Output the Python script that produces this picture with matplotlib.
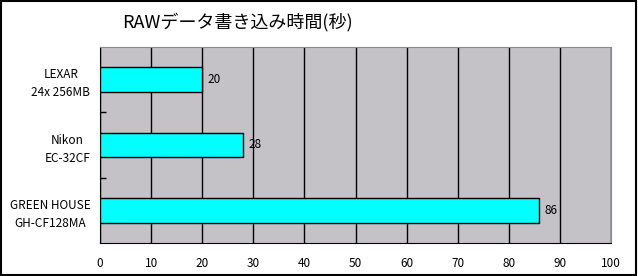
import matplotlib
matplotlib.use("Agg")
import matplotlib.pyplot as plt
from matplotlib.patches import Rectangle

plt.rcParams["font.family"] = ["Noto Sans CJK JP", "DejaVu Sans"]

categories = ["LEXAR\n24x 256MB", "Nikon\nEC-32CF", "GREEN HOUSE\nGH-CF128MA"]
values = [20, 28, 86]
x_ticks = [0, 10, 20, 30, 40, 50, 60, 70, 80, 90, 100]
title = "RAWデータ書き込み時間(秒)"

fig = plt.figure(figsize=(6.38, 2.76), dpi=100)
fig.patch.set_facecolor("white")
fig.patches.append(Rectangle((0.001, 0.002), 0.996, 0.993, transform=fig.transFigure,
                             fill=False, edgecolor="black", linewidth=1.5))

ax = fig.add_axes([100 / 638, 33 / 276, 511 / 638, 196 / 276])
ax.set_facecolor("#c4c2c6")

pos = list(range(len(categories)))
ax.barh(pos, values, height=0.38, color="#00ffff", edgecolor="black", linewidth=1.0, zorder=3)
for p, v in zip(pos, values):
    ax.text(v + 1.0, p, str(v), va="center", ha="left", fontsize=8.5, zorder=4)

ax.set_xlim(0, 100)
ax.set_ylim(len(categories) - 0.5, -0.5)
ax.set_xticks(x_ticks)
ax.set_xticklabels([str(t) for t in x_ticks], fontsize=8.5)
ax.tick_params(axis="x", length=0, pad=10)

ax.set_yticks(pos)
ax.set_yticklabels(categories, fontsize=8.5, ha="right", multialignment="center", linespacing=1.5)
ax.tick_params(axis="y", which="major", length=0, pad=7)
ax.set_yticks([0.5, 1.5], minor=True)
ax.tick_params(axis="y", which="minor", length=4, direction="in", width=1)

ax.grid(axis="x", color="black", linewidth=1.0, zorder=1)
ax.set_axisbelow(True)
for side in ["top", "right"]:
    ax.spines[side].set_color("#888888")
for side in ["left", "bottom"]:
    ax.spines[side].set_color("black")

fig.text(237 / 638, 1 - 22 / 276, title, ha="center", va="center", fontsize=13)

fig.savefig("out.png", dpi=100)
